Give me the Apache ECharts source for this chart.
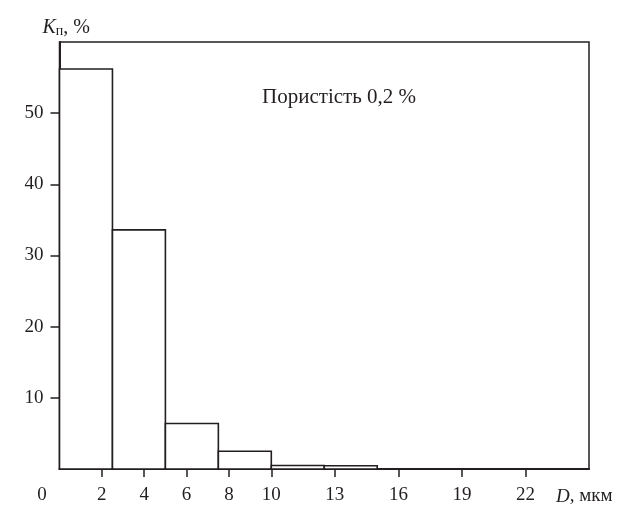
<!DOCTYPE html>
<html>
<head>
<meta charset="utf-8">
<script src="https://cdn.jsdelivr.net/npm/echarts@6/dist/echarts.min.js"></script>
<style>
  html, body { margin: 0; padding: 0; background: #fff; }
  #chart { width: 620px; height: 505px; }
</style>
</head>
<body>
<div id="chart"></div>
<script>
// Pore size distribution: share of pores (Kп, %) per diameter bin (D, мкм)
const binStart = [0, 2.5, 5, 7.5, 10, 12.5];
const binWidth = 2.5;
const shareValues = [56.2, 33.6, 6.4, 2.5, 0.5, 0.45];
const xTickValues = [2, 4, 6, 8, 10, 13, 16, 19, 22];
const xLabelValues = [0, 2, 4, 6, 8, 10, 13, 16, 19, 22];
const yTickValues = [10, 20, 30, 40, 50];

const FONT = '"Liberation Serif", "DejaVu Serif", serif';
const INK = '#231f20';

const chart = echarts.init(document.getElementById('chart'), null, { renderer: 'canvas' });

const bins = binStart.map((s, i) => [s, s + binWidth, shareValues[i]]);

chart.setOption({
  animation: false,
  backgroundColor: '#fff',
  grid: {
    left: 59.5, top: 42, right: 31, bottom: 36,
    outerBoundsMode: 'none', containLabel: false,
    show: true, borderColor: INK, borderWidth: 1.5
  },
  xAxis: {
    type: 'value', min: 0, max: 25,
    splitLine: { show: false },
    axisLine: { show: true, lineStyle: { color: INK, width: 2 } },
    axisTick: { show: true, customValues: xTickValues, length: 8, inside: false, lineStyle: { color: INK, width: 1.5 } },
    axisLabel: {
      customValues: xLabelValues, margin: 17, color: INK, fontFamily: FONT, fontSize: 19,
      formatter: v => v === 0 ? '{z|0}' : String(v),
      rich: { z: { fontFamily: FONT, fontSize: 19, color: INK, padding: [0, 35, 0, 0] } }
    },
    name: '{i|D}{n|, мкм}', nameLocation: 'end', nameGap: -33,
    nameTextStyle: {
      verticalAlign: 'top', padding: [18, 0, 0, 0],
      rich: {
        i: { fontFamily: FONT, fontSize: 19, fontStyle: 'italic', color: INK },
        n: { fontFamily: FONT, fontSize: 19, color: INK }
      }
    }
  },
  yAxis: {
    type: 'value', min: 0, max: 60,
    splitLine: { show: false },
    axisLine: { show: true, lineStyle: { color: INK, width: 2 } },
    axisTick: { show: true, customValues: yTickValues, length: 9, inside: false, lineStyle: { color: INK, width: 1.5 } },
    axisLabel: { customValues: yTickValues, margin: 16, color: INK, fontFamily: FONT, fontSize: 19 },
    name: '{i|K}{s|п}{n|, %}', nameLocation: 'end', nameGap: 4,
    nameTextStyle: {
      align: 'left', padding: [0, 0, 0, -17],
      rich: {
        i: { fontFamily: FONT, fontSize: 20, fontStyle: 'italic', color: INK },
        s: { fontFamily: FONT, fontSize: 14, color: INK, padding: [6, 0, 0, 0] },
        n: { fontFamily: FONT, fontSize: 20, color: INK }
      }
    }
  },
  graphic: [{
    type: 'text', left: 262, top: 87,
    style: { text: 'Пористість 0,2 %', fontFamily: FONT, fontSize: 21, fill: INK }
  }],
  series: [{
    type: 'custom',
    data: bins,
    encode: { x: [0, 1], y: 2 },
    renderItem: function (params, api) {
      const p0 = api.coord([api.value(0), 0]);
      const p1 = api.coord([api.value(1), api.value(2)]);
      return {
        type: 'rect',
        shape: { x: p0[0], y: p1[1], width: p1[0] - p0[0], height: p0[1] - p1[1] },
        style: { fill: '#fff', stroke: INK, lineWidth: 1.6 }
      };
    },
    z: 1
  }]
});
</script>
</body>
</html>
